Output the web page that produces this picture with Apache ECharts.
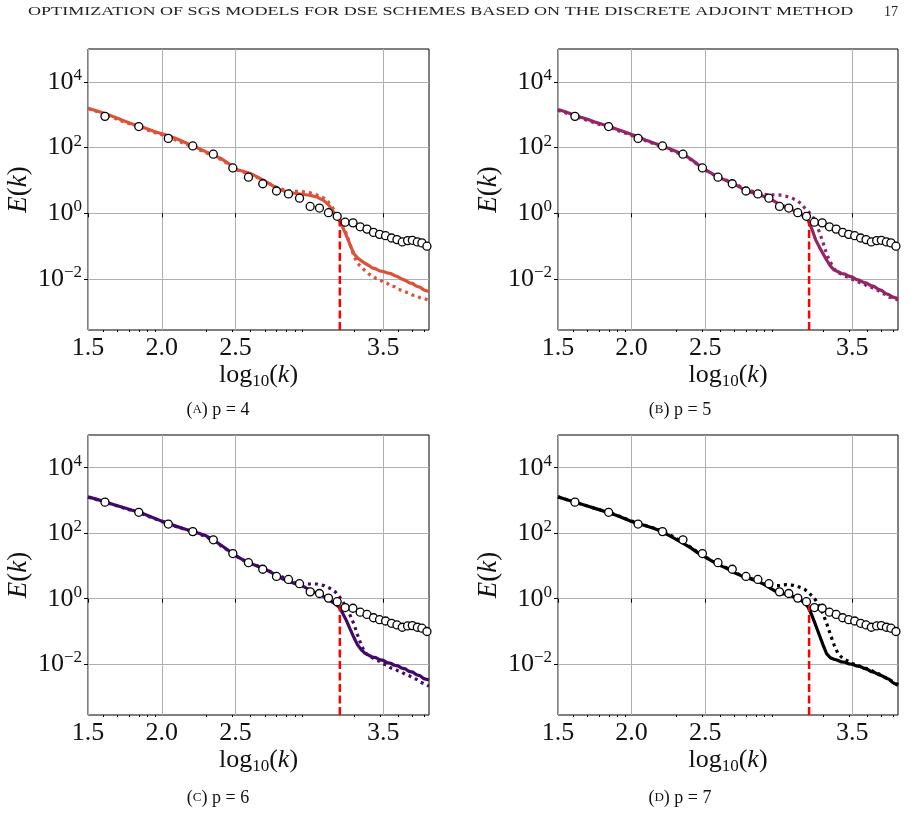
<!DOCTYPE html>
<html>
<head>
<meta charset="utf-8">
<script src="https://cdn.jsdelivr.net/npm/echarts@6/dist/echarts.min.js"></script>
<style>
html, body { margin: 0; padding: 0; background: #fff; }
#chart { width: 910px; height: 817px; }
</style>
</head>
<body>
<div id="chart"></div>
<script>
// all y values are log10(E(k)), x values are log10(k)
const kx = [1.50, 1.55, 1.60, 1.65, 1.70, 1.75, 1.80, 1.85, 1.90, 1.95,
  2.00, 2.05, 2.10, 2.15, 2.20, 2.25, 2.30, 2.35, 2.40, 2.45,
  2.50, 2.55, 2.60, 2.65, 2.70, 2.75, 2.80, 2.85, 2.90, 2.95,
  3.00, 3.05, 3.10,
  3.125, 3.15, 3.175, 3.20, 3.225, 3.25, 3.275, 3.30, 3.325, 3.35,
  3.375, 3.40, 3.425, 3.45, 3.475, 3.50, 3.525, 3.55, 3.575, 3.60,
  3.625, 3.65, 3.675, 3.70, 3.725, 3.75, 3.775, 3.81];

// DNS reference (open circles)
const dnsX = [1.615, 1.844, 2.044, 2.210, 2.349, 2.481, 2.587, 2.684, 2.777, 2.858,
  2.933, 3.005, 3.068, 3.129, 3.188, 3.242, 3.295, 3.344, 3.390, 3.434,
  3.475, 3.516, 3.556, 3.593, 3.629, 3.665, 3.697, 3.731, 3.762, 3.796];
const dnsE = [2.95, 2.64, 2.28, 2.05, 1.80, 1.38, 1.10, 0.90, 0.68, 0.59,
  0.46, 0.21, 0.16, 0.02, -0.09, -0.27, -0.29, -0.41, -0.48, -0.58,
  -0.64, -0.68, -0.75, -0.80, -0.87, -0.83, -0.82, -0.87, -0.90, -1.00];

// p = 4
const p4Solid = [3.20, 3.13, 3.06, 2.98, 2.89, 2.80, 2.72, 2.65, 2.57, 2.49,
  2.42, 2.35, 2.27, 2.17, 2.07, 1.97, 1.87, 1.77, 1.67, 1.52,
  1.34, 1.28, 1.21, 1.10, 0.98, 0.84, 0.72, 0.65, 0.61, 0.58,
  0.55, 0.50, 0.38,
  0.28, 0.13, -0.03, -0.20, -0.42, -0.67, -0.95, -1.22, -1.35, -1.44,
  -1.52, -1.58, -1.66, -1.69, -1.75, -1.77, -1.81, -1.83, -1.89, -1.93,
  -2.00, -2.04, -2.11, -2.14, -2.22, -2.25, -2.33, -2.38];
const p4Dotted = [3.19, 3.11, 3.03, 2.95, 2.86, 2.77, 2.70, 2.62, 2.54, 2.46,
  2.39, 2.31, 2.22, 2.13, 2.04, 1.94, 1.84, 1.74, 1.64, 1.50,
  1.33, 1.26, 1.18, 1.08, 0.97, 0.85, 0.75, 0.69, 0.67, 0.66,
  0.63, 0.56, 0.46,
  0.36, 0.22, 0.05, -0.12, -0.35, -0.62, -0.95, -1.28, -1.52, -1.63,
  -1.74, -1.84, -1.90, -1.98, -2.01, -2.09, -2.12, -2.21, -2.23, -2.31,
  -2.34, -2.39, -2.43, -2.49, -2.51, -2.57, -2.59, -2.65];

// p = 5
const p5Solid = [3.16, 3.09, 3.01, 2.93, 2.86, 2.78, 2.71, 2.64, 2.56, 2.48,
  2.40, 2.32, 2.22, 2.14, 2.06, 1.98, 1.89, 1.80, 1.66, 1.49,
  1.33, 1.20, 1.08, 0.98, 0.88, 0.76, 0.66, 0.59, 0.51, 0.42,
  0.29, 0.19, 0.09,
  0.03, -0.03, -0.09, -0.22, -0.48, -0.80, -1.02, -1.22, -1.42, -1.60,
  -1.72, -1.77, -1.83, -1.85, -1.91, -1.94, -2.01, -2.04, -2.10, -2.13,
  -2.20, -2.23, -2.31, -2.35, -2.44, -2.48, -2.55, -2.59];
const p5Dotted = [3.14, 3.06, 2.98, 2.90, 2.83, 2.75, 2.68, 2.61, 2.53, 2.45,
  2.37, 2.29, 2.20, 2.12, 2.03, 1.95, 1.86, 1.77, 1.64, 1.48,
  1.32, 1.19, 1.09, 1.00, 0.90, 0.79, 0.70, 0.63, 0.58, 0.56,
  0.56, 0.52, 0.44,
  0.38, 0.30, 0.17, 0.06, -0.06, -0.25, -0.56, -0.88, -1.24, -1.48,
  -1.68, -1.80, -1.85, -1.91, -1.95, -2.01, -2.04, -2.11, -2.14, -2.21,
  -2.24, -2.31, -2.35, -2.43, -2.47, -2.55, -2.57, -2.64];

// p = 6
const p6Solid = [3.11, 3.05, 2.98, 2.91, 2.84, 2.77, 2.70, 2.64, 2.55, 2.46,
  2.37, 2.29, 2.21, 2.14, 2.07, 2.00, 1.92, 1.79, 1.64, 1.48,
  1.32, 1.19, 1.08, 0.99, 0.90, 0.78, 0.65, 0.54, 0.47, 0.40,
  0.27, 0.17, 0.06,
  -0.02, -0.09, -0.16, -0.25, -0.44, -0.66, -0.92, -1.17, -1.40, -1.55,
  -1.66, -1.72, -1.78, -1.80, -1.86, -1.88, -1.95, -1.97, -2.03, -2.05,
  -2.12, -2.14, -2.22, -2.24, -2.32, -2.35, -2.44, -2.48];
const p6Dotted = [3.10, 3.04, 2.97, 2.90, 2.83, 2.76, 2.69, 2.62, 2.53, 2.45,
  2.36, 2.28, 2.20, 2.13, 2.06, 1.98, 1.90, 1.77, 1.62, 1.47,
  1.31, 1.18, 1.08, 1.00, 0.91, 0.80, 0.70, 0.60, 0.50, 0.46,
  0.45, 0.45, 0.40,
  0.35, 0.29, 0.21, 0.08, -0.08, -0.26, -0.50, -0.76, -1.09, -1.40,
  -1.63, -1.74, -1.80, -1.87, -1.91, -1.99, -2.03, -2.11, -2.14, -2.20,
  -2.24, -2.31, -2.35, -2.42, -2.46, -2.54, -2.59, -2.67];

// p = 7
const p7Solid = [3.11, 3.04, 2.97, 2.90, 2.83, 2.76, 2.69, 2.62, 2.54, 2.45,
  2.36, 2.29, 2.22, 2.15, 2.06, 1.94, 1.82, 1.69, 1.56, 1.40,
  1.27, 1.14, 1.02, 0.92, 0.79, 0.69, 0.62, 0.54, 0.44, 0.30,
  0.17, 0.14, 0.06,
  0.00, -0.05, -0.12, -0.26, -0.51, -0.80, -1.10, -1.40, -1.68, -1.80,
  -1.85, -1.88, -1.93, -1.94, -1.99, -2.00, -2.05, -2.06, -2.12, -2.15,
  -2.22, -2.25, -2.31, -2.35, -2.42, -2.46, -2.56, -2.64];
const p7Dotted = [3.11, 3.04, 2.97, 2.90, 2.83, 2.76, 2.70, 2.63, 2.55, 2.46,
  2.37, 2.30, 2.23, 2.16, 2.08, 1.98, 1.85, 1.72, 1.58, 1.42,
  1.28, 1.15, 1.04, 0.93, 0.81, 0.71, 0.64, 0.56, 0.45, 0.40,
  0.40, 0.43, 0.41,
  0.38, 0.34, 0.29, 0.20, 0.09, -0.04, -0.22, -0.45, -0.75, -1.08,
  -1.40, -1.65, -1.78, -1.86, -1.91, -1.98, -2.01, -2.07, -2.09, -2.14,
  -2.18, -2.24, -2.28, -2.35, -2.40, -2.48, -2.53, -2.62];

// cutoff wavenumber marker
const cutoffX = 3.206;
const cutoffTop = [-0.22, -0.22, -0.20, -0.20];

const solids = [p4Solid, p5Solid, p6Solid, p7Solid];
const dotteds = [p4Dotted, p5Dotted, p6Dotted, p7Dotted];
const panelTags = ['A', 'B', 'C', 'D'];
const panelP = ['4', '5', '6', '7'];
const panelColors = ['#dd513a', '#932667', '#420a68', '#000004'];

const xMajorTicks = [1.5, 2.0, 2.5, 3.5];
const xMinorTicks = [1.602, 1.699, 1.778, 1.845, 1.903, 1.954,
  2.301, 2.477, 2.602, 2.699, 2.778, 2.845, 2.903, 2.954,
  3.301, 3.477, 3.602, 3.699, 3.778];
const yMajorTicks = [-2, 0, 2, 4];

const FONT = 'Liberation Serif';
const grids = [
  { left: 88, top: 49, width: 341, height: 281 },
  { left: 558, top: 49, width: 340, height: 281 },
  { left: 88, top: 435, width: 341, height: 280 },
  { left: 558, top: 435, width: 340, height: 280 }
];
const captionPos = [[218, 410], [680, 410], [218, 798], [680, 798]];

const chart = echarts.init(document.getElementById('chart'));

const zip = (xs, ys) => xs.map((x, i) => [x, ys[i]]);

const option = {
  animation: false,
  backgroundColor: '#fff',
  grid: grids.map(g => Object.assign({ show: true, borderColor: '#000', borderWidth: 1, backgroundColor: 'transparent' }, g)),
  xAxis: [],
  yAxis: [],
  series: [],
  graphic: []
};

grids.forEach((g, i) => {
  option.xAxis.push({
    type: 'value', gridIndex: i, position: 'bottom', min: 1.5, max: 3.81,
    axisLine: { show: false },
    axisTick: { show: true, customValues: xMajorTicks, length: 4, lineStyle: { color: '#000' } },
    axisLabel: {
      customValues: xMajorTicks, formatter: v => v.toFixed(1),
      fontFamily: FONT, fontSize: 26, color: '#111', margin: 5
    },
    splitLine: { show: true, lineStyle: { color: '#b0b0b0', width: 1 } },
    name: '{t|log}{s|10}{t|(}{i|k}{t|)}',
    nameLocation: 'middle', nameGap: 30,
    nameTextStyle: {
      rich: {
        t: { fontFamily: FONT, fontSize: 26, color: '#111', lineHeight: 30 },
        i: { fontFamily: FONT, fontSize: 26, fontStyle: 'italic', color: '#111', lineHeight: 30 },
        s: { fontFamily: FONT, fontSize: 17, color: '#111', lineHeight: 16, verticalAlign: 'bottom' }
      }
    }
  });
  // log-spaced minor ticks on the bottom edge
  option.xAxis.push({
    type: 'value', gridIndex: i, position: 'bottom', min: 1.5, max: 3.81,
    axisLine: { show: false },
    axisTick: { show: true, customValues: xMinorTicks, length: 2, lineStyle: { color: '#000' } },
    axisLabel: { show: false },
    splitLine: { show: false }
  });
  option.yAxis.push({
    type: 'value', gridIndex: i, min: -3.55, max: 5,
    axisLine: { show: false },
    axisTick: { show: true, customValues: yMajorTicks, length: 4, lineStyle: { color: '#000' } },
    axisLabel: {
      customValues: yMajorTicks,
      formatter: v => '{b|10}{e|' + (v < 0 ? '\u2212' + (-v) : v) + '}',
      margin: 6,
      rich: {
        b: { fontFamily: FONT, fontSize: 26, color: '#111', lineHeight: 30 },
        e: { fontFamily: FONT, fontSize: 17, color: '#111', lineHeight: 22, verticalAlign: 'top' }
      }
    },
    splitLine: { show: true, lineStyle: { color: '#b0b0b0', width: 1 } },
    name: '{i|E}{t|(}{i|k}{t|)}',
    nameLocation: 'middle', nameGap: 56,
    nameTextStyle: {
      rich: {
        t: { fontFamily: FONT, fontSize: 27, color: '#111' },
        i: { fontFamily: FONT, fontSize: 27, fontStyle: 'italic', color: '#111' }
      }
    }
  });

  const col = panelColors[i];
  option.series.push({
    type: 'line', xAxisIndex: 2 * i, yAxisIndex: i, data: zip(kx, solids[i]),
    showSymbol: false, silent: true, z: 3,
    lineStyle: { color: col, width: 3.2 }
  });
  option.series.push({
    type: 'line', xAxisIndex: 2 * i, yAxisIndex: i, data: zip(kx, dotteds[i]),
    showSymbol: false, silent: true, z: 2,
    lineStyle: { color: col, width: 3.2, type: [3, 4], cap: 'butt' }
  });
  option.series.push({
    type: 'line', xAxisIndex: 2 * i, yAxisIndex: i,
    data: [[cutoffX, -3.55], [cutoffX, cutoffTop[i]]],
    showSymbol: false, silent: true, z: 4,
    lineStyle: { color: '#ff0000', width: 2.5, type: [8, 3.5] }
  });
  option.series.push({
    type: 'scatter', xAxisIndex: 2 * i, yAxisIndex: i, data: zip(dnsX, dnsE),
    symbol: 'circle', symbolSize: 8, silent: true, z: 5,
    itemStyle: { color: '#fff', borderColor: '#000', borderWidth: 1.3, opacity: 1 }
  });

  option.graphic.push({
    type: 'text', x: captionPos[i][0], y: captionPos[i][1],
    style: {
      text: '(' + '{sc|' + panelTags[i] + '}' + ') p = ' + panelP[i],
      fontFamily: FONT, fontSize: 18, fill: '#111',
      textAlign: 'center', textVerticalAlign: 'middle',
      rich: { sc: { fontFamily: FONT, fontSize: 13, fill: '#111' } }
    }
  });
});

option.graphic.push({
  type: 'text', x: 28, y: 12, scaleX: 1.39,
  style: {
    text: 'OPTIMIZATION OF SGS MODELS FOR DSE SCHEMES BASED ON THE DISCRETE ADJOINT METHOD',
    fontFamily: FONT, fontSize: 13, fill: '#222', textVerticalAlign: 'middle'
  }
});
option.graphic.push({
  type: 'text', x: 898, y: 12,
  style: { text: '17', fontFamily: FONT, fontSize: 14, fill: '#222', textAlign: 'right', textVerticalAlign: 'middle' }
});

chart.setOption(option);
window.addEventListener('resize', function () {
  chart.resize();
});
</script>
</body>
</html>
